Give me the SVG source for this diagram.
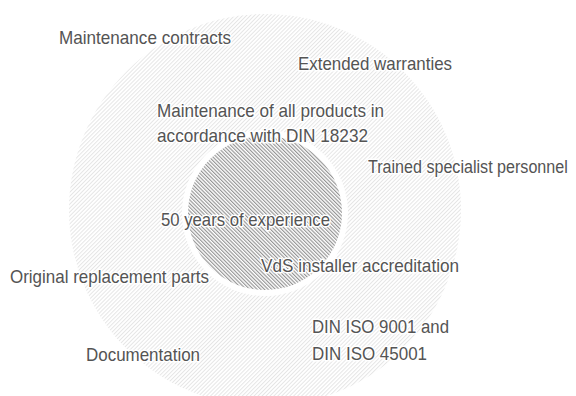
<svg xmlns="http://www.w3.org/2000/svg" width="576" height="396" viewBox="0 0 576 396">
  <style>
    text { font-family: "Liberation Sans", "Noto Sans", sans-serif; font-size: 18.5px; fill: #545454; stroke: #ffffff; stroke-width: 3px; stroke-linejoin: round; paint-order: stroke; }
  </style>
  <defs>
    <pattern id="hatchOuter" width="2.8" height="10" patternUnits="userSpaceOnUse" patternTransform="rotate(45)">
      <rect width="2.8" height="10" fill="#ffffff"/>
      <line x1="0.5" y1="0" x2="0.5" y2="10" stroke="#dcdcdc" stroke-width="0.75"/>
    </pattern>
    <pattern id="hatchInner" width="2.6" height="10" patternUnits="userSpaceOnUse" patternTransform="rotate(-45)">
      <rect width="2.6" height="10" fill="#ffffff"/>
      <line x1="0.6" y1="0" x2="0.6" y2="10" stroke="#8a8a8a" stroke-width="1.05"/>
    </pattern>
  </defs>
  <rect width="576" height="396" fill="#ffffff"/>
  <g id="outer-circle">
    <circle cx="265" cy="210" r="196" fill="url(#hatchOuter)"/>
    <circle cx="265" cy="213" r="83" fill="#ffffff"/>
  </g>
  <g id="inner-circle">
    <circle cx="265" cy="213" r="77" fill="url(#hatchInner)"/>
  </g>
  <g id="connectors"/>
  <g id="label-maintenance-contracts"><text x="59" y="44" textLength="172" lengthAdjust="spacingAndGlyphs">Maintenance contracts</text></g>
  <g id="label-extended-warranties"><text x="298" y="70" textLength="154" lengthAdjust="spacingAndGlyphs">Extended warranties</text></g>
  <g id="label-maintenance-din">
    <text x="157" y="117" textLength="227" lengthAdjust="spacingAndGlyphs">Maintenance of all products in</text>
    <text x="157" y="142" textLength="211" lengthAdjust="spacingAndGlyphs">accordance with DIN 18232</text>
  </g>
  <g id="label-trained-personnel"><text transform="translate(368,173) scale(0.88,1)" x="0" y="0" textLength="227" lengthAdjust="spacingAndGlyphs">Trained specialist personnel</text></g>
  <g id="label-experience"><text x="161" y="226" textLength="169" lengthAdjust="spacingAndGlyphs">50 years of experience</text></g>
  <g id="label-vds"><text x="261" y="272" textLength="198" lengthAdjust="spacingAndGlyphs">VdS installer accreditation</text></g>
  <g id="label-replacement-parts"><text x="10" y="283" textLength="199" lengthAdjust="spacingAndGlyphs">Original replacement parts</text></g>
  <g id="label-din-iso">
    <text x="312" y="333" textLength="137" lengthAdjust="spacingAndGlyphs">DIN ISO 9001 and</text>
    <text x="312" y="360" textLength="115" lengthAdjust="spacingAndGlyphs">DIN ISO 45001</text>
  </g>
  <g id="label-documentation"><text x="86" y="361" textLength="114" lengthAdjust="spacingAndGlyphs">Documentation</text></g>
</svg>
